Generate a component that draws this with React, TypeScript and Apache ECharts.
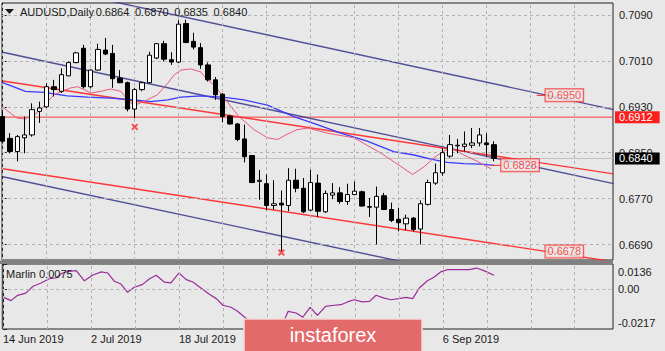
import React, { useEffect, useRef } from 'react';
import * as echarts from 'echarts';

const W = 665;
const H = 351;
const FONT = 'Liberation Sans, Arial, sans-serif';
const TXT = '#1a1a1a';
const BG = '#e8e8e8';
const GRIDC = '#b2b2b2';

// ---- data ----
const symbolTitle = 'AUDUSD,Daily';
// date labels visible below the indicator (the ones under the watermark are hidden in the reference)
const dateIdx = [0, 12, 24, 60];
const dateLabels = ['14 Jun 2019', '2 Jul 2019', '18 Jul 2019', '6 Sep 2019'];
const gridIdx = [0, 6, 12, 18, 24, 30, 36, 42, 48, 54, 60, 66, 72, 78];
const priceTicks = [0.669, 0.677, 0.685, 0.693, 0.701, 0.709];
const marlinTicks = [-0.0217, 0, 0.0136];

// [open, high, low, close] per daily bar, 14 Jun 2019 .. 17 Sep 2019
const candles: number[][] = [
  [0.6913, 0.6921, 0.6866, 0.6870],
  [0.6875, 0.6884, 0.6849, 0.6852],
  [0.6852, 0.6881, 0.6835, 0.6878],
  [0.6876, 0.6913, 0.6849, 0.6881],
  [0.6881, 0.6936, 0.6878, 0.6925],
  [0.6922, 0.6939, 0.6902, 0.6928],
  [0.6930, 0.6971, 0.6928, 0.6965],
  [0.6965, 0.6977, 0.6948, 0.6960],
  [0.6957, 0.6997, 0.6954, 0.6986],
  [0.6984, 0.7009, 0.6983, 0.7007],
  [0.7007, 0.7026, 0.7006, 0.7024],
  [0.7032, 0.7038, 0.6962, 0.6965],
  [0.6965, 0.6995, 0.6962, 0.6994],
  [0.6994, 0.7040, 0.6993, 0.7030],
  [0.7029, 0.7050, 0.7020, 0.7022],
  [0.7023, 0.7038, 0.6963, 0.6979],
  [0.6980, 0.6994, 0.6971, 0.6972],
  [0.6972, 0.6974, 0.6922, 0.6926],
  [0.6926, 0.6963, 0.6910, 0.6960],
  [0.6960, 0.6974, 0.6957, 0.6972],
  [0.6972, 0.7026, 0.6971, 0.7020],
  [0.7015, 0.7041, 0.7013, 0.7040],
  [0.7040, 0.7045, 0.7009, 0.7013],
  [0.7012, 0.7025, 0.7003, 0.7008],
  [0.7008, 0.7081, 0.7006, 0.7074],
  [0.7075, 0.7082, 0.7041, 0.7042],
  [0.7044, 0.7059, 0.7030, 0.7034],
  [0.7033, 0.7041, 0.6996, 0.7003],
  [0.7003, 0.7007, 0.6974, 0.6977],
  [0.6977, 0.6982, 0.6942, 0.6951],
  [0.6952, 0.6954, 0.6903, 0.6913],
  [0.6914, 0.6916, 0.6899, 0.6900],
  [0.6900, 0.6902, 0.6870, 0.6873],
  [0.6874, 0.6899, 0.6833, 0.6843],
  [0.6845, 0.6846, 0.6797, 0.6798],
  [0.6800, 0.6820, 0.6768, 0.6802],
  [0.6796, 0.6812, 0.6750, 0.6758],
  [0.6758, 0.6802, 0.6751, 0.6761],
  [0.6762, 0.6784, 0.6678, 0.6759],
  [0.6758, 0.6823, 0.6748, 0.6802],
  [0.6802, 0.6822, 0.6781, 0.6788],
  [0.6788, 0.6806, 0.6745, 0.6747],
  [0.6750, 0.6820, 0.6748, 0.6798],
  [0.6797, 0.6812, 0.6738, 0.6748],
  [0.6747, 0.6784, 0.6745, 0.6779],
  [0.6776, 0.6797, 0.6769, 0.6780],
  [0.6780, 0.6790, 0.6761, 0.6765],
  [0.6765, 0.6796, 0.6759, 0.6777],
  [0.6777, 0.6800, 0.6776, 0.6783],
  [0.6782, 0.6784, 0.6756, 0.6757],
  [0.6756, 0.6771, 0.6738, 0.6755],
  [0.6755, 0.6791, 0.6690, 0.6774],
  [0.6775, 0.6780, 0.6750, 0.6751],
  [0.6751, 0.6763, 0.6729, 0.6732],
  [0.6734, 0.6754, 0.6713, 0.6728],
  [0.6726, 0.6742, 0.6715, 0.6736],
  [0.6736, 0.6738, 0.6713, 0.6716],
  [0.6717, 0.6767, 0.6690, 0.6761],
  [0.6760, 0.6803, 0.6758, 0.6798],
  [0.6797, 0.6831, 0.6794, 0.6815],
  [0.6815, 0.6858, 0.6810, 0.6850],
  [0.6844, 0.6881, 0.6841, 0.6864],
  [0.6862, 0.6874, 0.6849, 0.6863],
  [0.6861, 0.6887, 0.6852, 0.6865],
  [0.6863, 0.6893, 0.6858, 0.6867],
  [0.6867, 0.6893, 0.6861, 0.6881],
  [0.6867, 0.6884, 0.6843, 0.6864],
  [0.6864, 0.6870, 0.6835, 0.6840],
];

// slow moving average (blue), [bar, price]
const maSlow = [
  [0, 0.6972], [3.1, 0.6957], [5.6, 0.6955], [8.8, 0.6949], [11.6, 0.6947], [14.7, 0.6945],
  [17.9, 0.6942], [20.2, 0.6939], [22.5, 0.6942], [24.3, 0.6947], [27, 0.6949], [30, 0.6947],
  [32.9, 0.6942], [36.1, 0.6933], [39.7, 0.6913], [42.9, 0.6899], [46.1, 0.6884], [49.7, 0.6870],
  [53.3, 0.6852], [56.1, 0.6846], [58.4, 0.6839], [60.6, 0.6833], [62.9, 0.6831], [65.2, 0.6830],
  [67, 0.6828],
];

// fast moving average (pink), [bar, price]
const maFast = [
  [0, 0.6929], [2, 0.6910], [3.1, 0.6909], [4.3, 0.6916], [5.2, 0.6925], [6.1, 0.6939],
  [7, 0.6951], [8.1, 0.6957], [9.3, 0.6963], [10.2, 0.6965], [11.1, 0.6960], [12, 0.6954],
  [13.4, 0.6957], [14.7, 0.6961], [16.1, 0.6957], [17, 0.6943], [17.9, 0.6932], [18.8, 0.6937],
  [19.7, 0.6942], [21.1, 0.6951], [22.5, 0.6971], [23.4, 0.6986], [24.3, 0.6994], [25.6, 0.6996],
  [27, 0.6991], [27.7, 0.6980], [29.05, 0.6965], [30.4, 0.6942], [32.2, 0.6913], [34.3, 0.6890],
  [36.1, 0.6876], [37.5, 0.6873], [38.6, 0.6881], [40.1, 0.6890], [41.6, 0.6893], [44.3, 0.6884],
  [47.9, 0.6876], [51.6, 0.6849], [54.3, 0.6826], [55.9, 0.6812], [57.5, 0.6826], [58.8, 0.6841],
  [60, 0.6852], [61.1, 0.6858], [62.9, 0.6846], [64.7, 0.6835], [66.6, 0.6822],
];

// channel lines, [bar, price] end points
const navyUpper = [[13.36, 0.7118], [83.3, 0.6925]];
const navyMid = [[0, 0.7025], [83.3, 0.6796]];
const navyLow = [[0, 0.6808], [60, 0.6645]];
const redUpper = [[0, 0.6975], [83.3, 0.6813]];
const redLower = [[0, 0.6822], [83.3, 0.6660]];
const resistLevel = 0.6912;

// price labels on chart: [bar, price]
const priceTags = [[73.95, 0.6950], [67.91, 0.6828], [73.95, 0.6678]];
const tagLinks = [
  [[72.82, 0.6950], [73.95, 0.6950]],
  [[66.69, 0.6828], [67.91, 0.6828]],
];
// swing markers
const swingMarks = [[18, 0.6895], [38, 0.6676]];

// Marlin oscillator, [bar, value]
const marlin = [
  [0.1, -0.0045], [1.1, -0.0063], [2, -0.0034], [3.1, -0.0022], [4.1, 0.0015], [5.2, 0.0033],
  [6.3, 0.0056], [7.2, 0.0060], [8.1, 0.0087], [9, 0.0096], [10, 0.0100], [11.1, 0.0045],
  [12.2, 0.0075], [13.4, 0.0093], [14.3, 0.0087], [15.2, 0.0042], [16.1, 0.0027], [17, -0.0018],
  [17.9, 0.0010], [19, 0.0024], [20, 0.0056], [20.9, 0.0075], [22, 0.0038], [22.9, 0.0033],
  [24, 0.0087], [25, 0.0051], [25.9, 0.0038], [27, 0.0006], [28.1, -0.0027], [29.1, -0.0052],
  [30, -0.0088], [31.1, -0.0099], [32, -0.0121], [33.1, -0.0157], [34.5, -0.0179], [35.9, -0.0201],
  [37.2, -0.0195], [38, -0.0174], [38.4, -0.0167], [38.9, -0.0121], [40, -0.0130], [40.9, -0.0153],
  [41.9, -0.0099], [42.9, -0.0143], [44, -0.0094], [45.2, -0.0088], [46.1, -0.0085], [47, -0.0070],
  [47.9, -0.0058], [49, -0.0070], [50, -0.0067], [50.9, -0.0034], [52, -0.0049], [52.9, -0.0058],
  [54, -0.0052], [55, -0.0045], [55.9, -0.0052], [56.8, 0.0006], [57.9, 0.0045], [58.8, 0.0064],
  [59.7, 0.0093], [60.6, 0.0105], [61.6, 0.0105], [62.5, 0.0105], [63.6, 0.0105], [64.6, 0.0114],
  [65.6, 0.0100], [67, 0.0075],
];

const X_MIN = -0.1;
const X_MAX = 83.22;

function lineSeries(data: number[][], color: string, width: number, z = 3, opacity = 1) {
  return {
    type: 'line',
    xAxisIndex: 0,
    yAxisIndex: 0,
    data,
    symbol: 'none',
    silent: true,
    z,
    lineStyle: { color, width, opacity },
  };
}

// full-width horizontal level with its price box on the right axis
function levelSeries(value: number, lineColor: string, boxColor: string, z: number) {
  return {
    type: 'line', xAxisIndex: 0, yAxisIndex: 0, z, silent: true,
    data: [[X_MIN, value], [X_MAX, value]],
    symbol: 'none',
    color: lineColor,
    lineStyle: { color: lineColor, width: 1, type: 'solid' },
    endLabel: {
      show: true, distance: 2, formatter: value.toFixed(4),
      color: '#ffffff', backgroundColor: boxColor, padding: [1, 7, 0, 4],
      fontSize: 11, fontFamily: FONT, lineHeight: 11, align: 'left', verticalAlign: 'middle',
    },
  };
}

export default function App() {
  const ref = useRef<HTMLDivElement>(null);

  useEffect(() => {
    const chart = echarts.init(ref.current as HTMLDivElement, null, { renderer: 'svg' });
    const last = candles[candles.length - 1];
    const lastClose = last[3];
    const headerVals = last.map((v) => v.toFixed(4));
    const marlinNow = marlin[marlin.length - 1][1];

    const gridMarkLine = (yVals: number[]) => ({
      silent: true,
      precision: 8,
      symbol: ['none', 'none'],
      label: { show: false },
      lineStyle: { color: GRIDC, width: 1, type: [3, 3] },
      data: [
        ...yVals.map((v) => ({ yAxis: v })),
        ...gridIdx.map((v) => ({ xAxis: v })),
      ],
    });

    const option: any = {
      animation: false,
      backgroundColor: BG,
      textStyle: { fontFamily: FONT },
      grid: [
        { left: 2, top: 3, width: 611, height: 257, show: true, borderColor: '#222', borderWidth: 1, backgroundColor: 'transparent' },
        { left: 2, top: 264, width: 611, height: 65, show: true, borderColor: '#222', borderWidth: 1, backgroundColor: 'transparent' },
      ],
      xAxis: [
        {
          type: 'value', gridIndex: 0, min: X_MIN, max: X_MAX,
          axisLine: { show: false }, axisTick: { show: false }, axisLabel: { show: false }, splitLine: { show: false },
        },
        {
          type: 'value', gridIndex: 1, min: X_MIN, max: X_MAX,
          axisLine: { show: false }, axisTick: { show: false }, splitLine: { show: false },
          axisLabel: {
            show: true, customValues: dateIdx, align: 'left', margin: 4,
            color: TXT, fontSize: 11, fontFamily: FONT,
            formatter: (v: number) => {
              const k = dateIdx.indexOf(Math.round(v));
              return k >= 0 ? dateLabels[k] : '';
            },
          },
        },
      ],
      yAxis: [
        {
          type: 'value', gridIndex: 0, position: 'right', min: 0.6663, max: 0.71109,
          axisLine: { show: true, lineStyle: { color: '#222', width: 1 } },
          axisTick: { show: true, customValues: priceTicks, length: 4, lineStyle: { color: '#222' } },
          splitLine: { show: false },
          axisLabel: {
            customValues: priceTicks, margin: 6, color: TXT, fontSize: 11, fontFamily: FONT,
            formatter: (v: number) => v.toFixed(4),
          },
        },
        {
          type: 'value', gridIndex: 1, position: 'right', min: -0.0217, max: 0.0136,
          axisLine: { show: true, lineStyle: { color: '#222', width: 1 } },
          axisTick: { show: true, customValues: marlinTicks, length: 4, lineStyle: { color: '#222' } },
          splitLine: { show: false },
          axisLabel: {
            customValues: marlinTicks, margin: 5, color: TXT, fontSize: 11, fontFamily: FONT,
            formatter: (v: number) => {
              if (Math.abs(v) < 1e-9) return '0.00';
              if (v > 0) return `{top|${v.toFixed(4)}}`;
              return `{bot|${v.toFixed(4)}}`;
            },
            rich: {
              top: { padding: [16, 0, 0, 0], fontSize: 11, color: TXT, fontFamily: FONT },
              bot: { padding: [0, 0, 13, 0], fontSize: 11, color: TXT, fontFamily: FONT },
            },
          },
        },
      ],
      series: [
        // grid lines main
        {
          type: 'line', xAxisIndex: 0, yAxisIndex: 0, data: [], z: 1, silent: true,
          markLine: gridMarkLine(priceTicks),
        },
        // grid lines indicator
        {
          type: 'line', xAxisIndex: 1, yAxisIndex: 1, data: [], z: 1, silent: true,
          markLine: gridMarkLine([0]),
        },
        // bid line and horizontal level
        levelSeries(lastClose, '#c0c0c0', '#000000', 2),
        levelSeries(resistLevel, '#f03c3c', '#ff1e1e', 3),
        lineSeries(navyUpper, '#34348a', 1.4, 3, 0.85),
        lineSeries(navyMid, '#34348a', 1.4, 3, 0.85),
        lineSeries(navyLow, '#34348a', 1.4, 3, 0.85),
        lineSeries(redUpper, '#ff2424', 1.4, 3, 0.9),
        lineSeries(redLower, '#ff2424', 1.4, 3, 0.9),
        lineSeries(maSlow, '#3a3aff', 1.3, 4),
        lineSeries(maFast, '#e8587a', 1, 4),
        ...tagLinks.map((d) => lineSeries(d, '#ff2020', 1, 6)),
        {
          type: 'candlestick',
          xAxisIndex: 0, yAxisIndex: 0, z: 5, silent: true,
          barWidth: 5,
          data: candles.map((c, i) => [i, c[0], c[3], c[2], c[1]]),
          itemStyle: {
            color: '#ffffff', color0: '#000000',
            borderColor: '#000000', borderColor0: '#000000', borderWidth: 1,
          },
        },
        {
          type: 'scatter', xAxisIndex: 0, yAxisIndex: 0, z: 7, silent: true,
          data: swingMarks,
          symbol: 'path://M0,2 L2,0 L5,3 L8,0 L10,2 L7,5 L10,8 L8,10 L5,7 L2,10 L0,8 L3,5 Z',
          symbolSize: 7,
          itemStyle: { color: '#ff2a2a' },
        },
        {
          type: 'scatter', xAxisIndex: 0, yAxisIndex: 0, z: 8, silent: true,
          data: priceTags, symbolSize: 1, itemStyle: { color: 'transparent' },
          label: {
            show: true, position: 'right', distance: 0,
            formatter: (p: any) => p.value[1].toFixed(4),
            color: '#ff1e1e', fontSize: 11, fontFamily: FONT, lineHeight: 11,
            borderColor: '#ff1e1e', borderWidth: 1, backgroundColor: BG, padding: [1, 2, 0, 2],
          },
        },
        {
          type: 'line', xAxisIndex: 1, yAxisIndex: 1, data: marlin, symbol: 'none', silent: true, z: 4,
          lineStyle: { color: '#9a2c9a', width: 1.2 },
        },
      ],
      graphic: [
        { type: 'rect', z: 100, shape: { x: 0, y: 260.5, width: 613, height: 3.5 }, style: { fill: '#808080' } },
        { type: 'polygon', z: 100, shape: { points: [[5, 9], [14, 9], [9.5, 14]] }, style: { fill: TXT } },
        { type: 'text', z: 100, x: 20, y: 12, style: { text: symbolTitle, font: `11px ${FONT}`, fill: TXT, verticalAlign: 'middle' } },
        ...headerVals.map((t, k) => ({
          type: 'text', z: 100, x: 95.7 + k * 39.3, y: 12,
          style: { text: t, font: `11px ${FONT}`, fill: TXT, verticalAlign: 'middle' },
        })),
        {
          type: 'text', z: 100, x: 6, y: 274,
          style: { text: `Marlin ${marlinNow.toFixed(4)}`, font: `11px ${FONT}`, fill: TXT, verticalAlign: 'middle' },
        },
        {
          type: 'rect', z: 110, shape: { x: 244, y: 319, width: 178, height: 36 },
          style: { fill: '#e36a6a', stroke: '#f3d6d6', lineWidth: 1.5 },
        },
        {
          type: 'text', z: 111, x: 333, y: 335,
          style: { text: 'instaforex', font: `20px ${FONT}`, fill: '#ffffff', align: 'center', verticalAlign: 'middle' },
        },
      ],
    };

    chart.setOption(option);
    return () => chart.dispose();
  }, []);

  return (
    <div
      ref={ref}
      style={{ position: 'fixed', left: 0, top: 0, width: W, height: H, background: BG }}
    />
  );
}
